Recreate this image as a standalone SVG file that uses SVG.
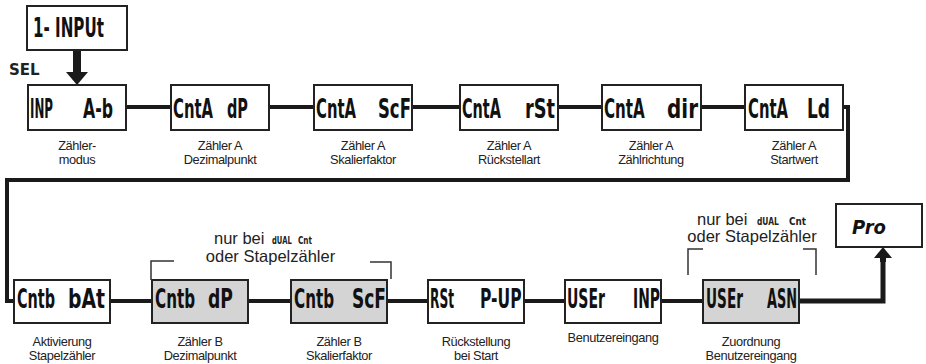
<svg xmlns="http://www.w3.org/2000/svg" width="926" height="364" viewBox="0 0 926 364">
<style>
.box{fill:#fff;stroke:#222;stroke-width:2}
.gray{fill:#d4d4d4;stroke:#222;stroke-width:2}
.seg{font-family:"DejaVu Sans",sans-serif;font-weight:bold;font-size:27px;fill:#111}
.lbl{font-family:"Liberation Sans",Arial,sans-serif;font-size:12.8px;letter-spacing:-0.4px;fill:#222;text-anchor:middle}
.note{font-family:"Liberation Sans",Arial,sans-serif;font-size:16.5px;fill:#222}
.small{font-family:"DejaVu Sans",sans-serif;font-weight:bold;font-size:10px;fill:#222}
.conn{fill:none;stroke:#1a1a1a;stroke-width:4}
.brk{fill:none;stroke:#333;stroke-width:1.5}
</style>
<rect width="926" height="364" fill="#fff"/>

<g id="connectors">
  <path class="conn" d="M126,107H171M269,107H314M412,107H460M558,107H602M701,107H745"/>
  <path class="conn" d="M843,107H848V180H7V301H14"/>
  <path class="conn" d="M110,301H152M248,301H291M387,301H428M524,301H565M661,301H703"/>
  <path fill="none" stroke="#1a1a1a" stroke-width="5" d="M799,301H883V256"/>
  <rect x="73" y="50" width="8" height="24" fill="#1a1a1a"/>
  <polygon points="66,72 88,72 77,85" fill="#1a1a1a"/>
  <polygon points="874,258 892,258 883,247" fill="#1a1a1a"/>
  <rect x="880" y="256" width="6" height="6" fill="#1a1a1a"/>
</g>

<g id="input">
  <rect class="box" x="27" y="6" width="100" height="44"/>
  <text class="seg" style="font-size:26px" transform="translate(33,37) scale(0.582,1)">1- INPUt</text>
</g>
<text x="9" y="75" font-family="'DejaVu Sans','Liberation Sans',sans-serif" font-weight="bold" font-size="15" fill="#222">SEL</text>

<g id="n1">
  <rect class="box" x="28" y="85" width="98" height="45"/>
  <text class="seg" transform="translate(30,118) scale(0.439,1)">INP</text>
  <text class="seg" transform="translate(83,118) scale(0.583,1)">A-b</text>
  <text class="lbl" x="77" y="150">Zähler-</text>
  <text class="lbl" x="77" y="164">modus</text>
</g>
<g id="n2">
  <rect class="box" x="171" y="85" width="98" height="45"/>
  <text class="seg" transform="translate(173,118) scale(0.55,1)">CntA</text>
  <text class="seg" transform="translate(227,118) scale(0.537,1)">dP</text>
  <text class="lbl" x="220" y="150">Zähler A</text>
  <text class="lbl" x="220" y="164">Dezimalpunkt</text>
</g>
<g id="n3">
  <rect class="box" x="314" y="85" width="98" height="45"/>
  <text class="seg" transform="translate(316,118) scale(0.55,1)">CntA</text>
  <text class="seg" transform="translate(378,118) scale(0.611,1)">ScF</text>
  <text class="lbl" x="363" y="150">Zähler A</text>
  <text class="lbl" x="363" y="164">Skalierfaktor</text>
</g>
<g id="n4">
  <rect class="box" x="460" y="85" width="98" height="45"/>
  <text class="seg" transform="translate(462,118) scale(0.535,1)">CntA</text>
  <text class="seg" transform="translate(525,118) scale(0.658,1)">rSt</text>
  <text class="lbl" x="509" y="150">Zähler A</text>
  <text class="lbl" x="509" y="164">Rückstellart</text>
</g>
<g id="n5">
  <rect class="box" x="602" y="85" width="99" height="45"/>
  <text class="seg" transform="translate(604,118) scale(0.56,1)">CntA</text>
  <text class="seg" transform="translate(667,118) scale(0.74,1)">dir</text>
  <text class="lbl" x="651" y="150">Zähler A</text>
  <text class="lbl" x="651" y="164">Zählrichtung</text>
</g>
<g id="n6">
  <rect class="box" x="745" y="85" width="98" height="45"/>
  <text class="seg" transform="translate(748,118) scale(0.55,1)">CntA</text>
  <text class="seg" transform="translate(807,118) scale(0.63,1)">Ld</text>
  <text class="lbl" x="794" y="150">Zähler A</text>
  <text class="lbl" x="794" y="164">Startwert</text>
</g>

<g id="m1">
  <rect class="box" x="14" y="280" width="96" height="43"/>
  <text class="seg" transform="translate(17,308) scale(0.534,1)">Cntb</text>
  <text class="seg" transform="translate(68,308) scale(0.697,1)">bAt</text>
  <text class="lbl" x="62" y="346">Aktivierung</text>
  <text class="lbl" x="62" y="360">Stapelzähler</text>
</g>
<g id="m2">
  <rect class="gray" x="152" y="280" width="96" height="43"/>
  <text class="seg" transform="translate(155,308) scale(0.562,1)">Cntb</text>
  <text class="seg" transform="translate(208,308) scale(0.639,1)">dP</text>
  <text class="lbl" x="200" y="346">Zähler B</text>
  <text class="lbl" x="200" y="360">Dezimalpunkt</text>
</g>
<g id="m3">
  <rect class="gray" x="291" y="280" width="96" height="43"/>
  <text class="seg" transform="translate(294,308) scale(0.562,1)">Cntb</text>
  <text class="seg" transform="translate(352,308) scale(0.63,1)">ScF</text>
  <text class="lbl" x="339" y="346">Zähler B</text>
  <text class="lbl" x="339" y="360">Skalierfaktor</text>
</g>
<g id="m4">
  <rect class="box" x="428" y="280" width="96" height="43"/>
  <text class="seg" transform="translate(430,308) scale(0.452,1)">RSt</text>
  <text class="seg" transform="translate(480,308) scale(0.576,1)">P-UP</text>
  <text class="lbl" x="476" y="346">Rückstellung</text>
  <text class="lbl" x="476" y="360">bei Start</text>
</g>
<g id="m5">
  <rect class="box" x="565" y="280" width="96" height="43"/>
  <text class="seg" transform="translate(567,308) scale(0.519,1)">USEr</text>
  <text class="seg" transform="translate(633,308) scale(0.515,1)">INP</text>
  <text class="lbl" x="613" y="342">Benutzereingang</text>
</g>
<g id="m6">
  <rect class="gray" x="703" y="280" width="96" height="43"/>
  <text class="seg" transform="translate(706,308) scale(0.505,1)">USEr</text>
  <text class="seg" transform="translate(767,308) scale(0.477,1)">ASN</text>
  <text class="lbl" x="751" y="346">Zuordnung</text>
  <text class="lbl" x="751" y="360">Benutzereingang</text>
</g>

<g id="pro">
  <rect class="box" x="836" y="204" width="86" height="43"/>
  <text class="seg" style="font-size:19px;font-style:italic" transform="translate(852,234) scale(0.95,1)">Pro</text>
</g>

<g id="note1">
  <polyline class="brk" points="151,280 151,261 174,261"/>
  <polyline class="brk" points="370,262 391,262 391,279"/>
  <text class="note" x="214" y="244">nur bei</text>
  <text class="small" transform="translate(272,244) scale(0.68,1)">dUAL</text>
  <text class="small" transform="translate(298,244) scale(0.73,1)">Cnt</text>
  <text class="note" x="270.5" y="262" text-anchor="middle">oder Stapelzähler</text>
</g>
<g id="note2">
  <polyline class="brk" points="688,275 688,249 703,249"/>
  <polyline class="brk" points="803,249 816,249 816,275"/>
  <text class="note" x="697" y="225">nur bei</text>
  <text class="small" transform="translate(757,225) scale(0.75,1)">dUAL</text>
  <text class="small" transform="translate(789,225) scale(0.885,1)">Cnt</text>
  <text class="note" x="752" y="242" text-anchor="middle">oder Stapelzähler</text>
</g>
</svg>
